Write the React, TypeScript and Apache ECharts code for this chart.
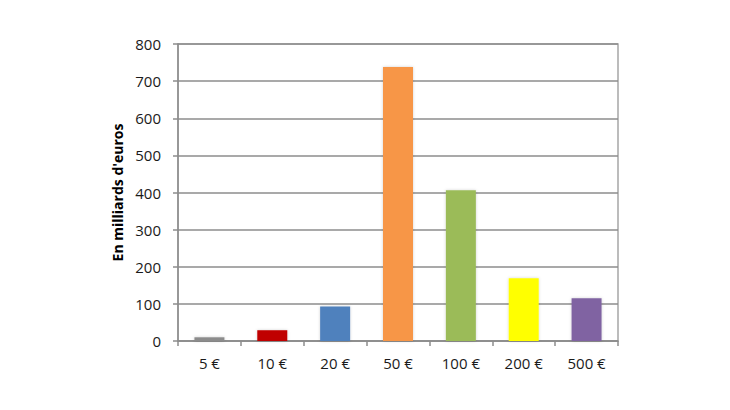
import { useEffect, useRef } from 'react'
import * as echarts from 'echarts'

const categories = ['5 €', '10 €', '20 €', '50 €', '100 €', '200 €', '500 €']
const values = [10, 29, 93, 738, 406, 169, 115]
const barColors = ['#8c8c8c', '#c00000', '#4f81bd', '#f79646', '#9bbb59', '#ffff00', '#8064a2']
const yTicks = [0, 100, 200, 300, 400, 500, 600, 700, 800]

const FONT = '"Open Sans", Lato, "Liberation Sans", sans-serif'

export default function App() {
  const chartRef = useRef<HTMLDivElement>(null)

  useEffect(() => {
    document.body.style.margin = '0'
    if (!chartRef.current) return
    const chart = echarts.init(chartRef.current, undefined, { renderer: 'svg' })

    chart.setOption({
      animation: false,
      backgroundColor: '#ffffff',
      grid: { left: 178, right: 112, top: 44, bottom: 69, show: true, borderColor: '#a6a6a6', borderWidth: 1.5 },
      xAxis: {
        type: 'category',
        data: categories,
        axisLine: { lineStyle: { color: '#8c8c8c', width: 1.5 } },
        axisTick: { show: true, length: 5, inside: false, lineStyle: { color: '#8c8c8c', width: 1.5 } },
        axisLabel: { color: '#1a1a1a', fontSize: 15, fontFamily: FONT, margin: 14 }
      },
      yAxis: {
        type: 'value',
        min: yTicks[0],
        max: yTicks[yTicks.length - 1],
        interval: 100,
        name: "En milliards d'euros",
        nameLocation: 'middle',
        nameGap: 54,
        nameTextStyle: { color: '#000', fontSize: 14, fontWeight: 'bold', fontFamily: FONT },
        axisLine: { show: true, lineStyle: { color: '#8c8c8c', width: 1.5 } },
        axisTick: { show: true, length: 5, lineStyle: { color: '#8c8c8c', width: 1.5 } },
        axisLabel: { color: '#1a1a1a', fontSize: 15, fontFamily: FONT, margin: 17 },
        splitLine: { lineStyle: { color: '#8c8c8c', width: 1.5 } }
      },
      series: [
        {
          type: 'bar',
          barWidth: 30,
          data: values.map((v, i) => ({
            value: v,
            itemStyle: {
              color: barColors[i],
              shadowColor: 'rgba(0,0,0,0.18)',
              shadowBlur: 3
            }
          }))
        }
      ]
    })

    return () => chart.dispose()
  }, [])

  return <div ref={chartRef} style={{ width: 730, height: 410 }} />
}
